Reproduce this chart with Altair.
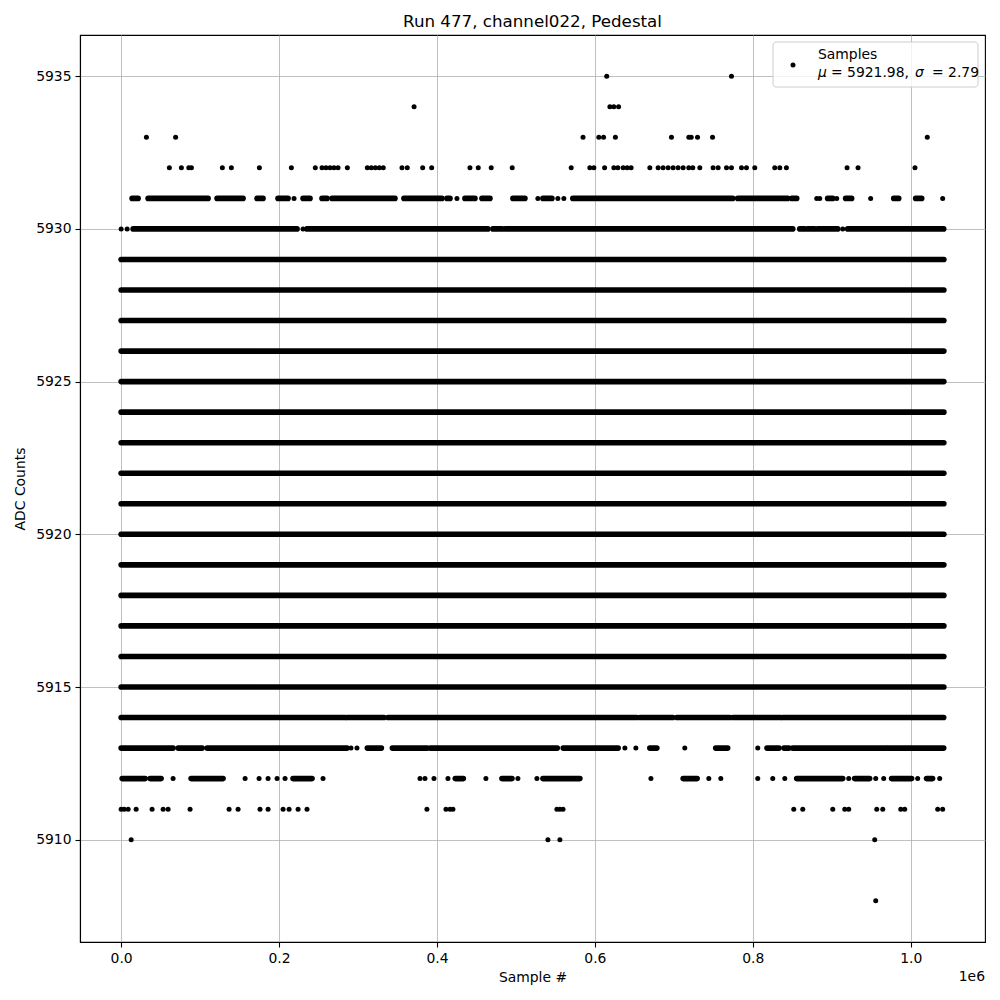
import altair as alt
import pandas as pd

FONT = "DejaVu Sans"

# ---- data (sample numbers in thousands, ADC levels) ----
full_levels = [5915, 5916, 5917, 5918, 5919, 5920, 5921, 5922, 5923, 5924,
               5925, 5926, 5927, 5928, 5929]
full_range = (0, 1042)

seg_5931 = [(13.9, 21.5), (34.2, 110.1), (121.5, 154.4), (172.1, 179.7), (198.7, 211.4),
            (230.4, 239.2), (254.4, 260.8), (267.1, 346.8), (358.2, 406.3), (412.7, 416.5),
            (435.4, 448.1), (457.0, 467.1), (496.2, 511.4), (534.2, 545.6), (572.1, 774.6),
            (780.9, 844.2), (849.3, 855.6), (894.8, 901.2), (917.6, 925.2), (978.5, 984.8),
            (1006.3, 1013.9)]
seg_5930 = [(15.2, 222.8), (235.4, 464.5), (470.9, 482.3), (486.1, 850.6), (859.5, 865.8),
            (869.6, 878.5), (882.3, 907.6), (920.2, 1041.8)]
seg_5914 = [(0, 283.5), (286.1, 332.9), (338.0, 653.1), (657.0, 698.7), (703.8, 770.9),
            (774.7, 835.4), (838.0, 1041.8)]
seg_5913 = [(0, 65.8), (72.2, 102.6), (108.9, 286.1), (311.8, 329.6), (343.5, 387.8),
            (391.6, 552.4), (559.9, 629.5), (669.6, 678.5), (753.0, 768.2), (818.0, 833.2),
            (839.5, 845.8), (850.6, 968.3), (970.8, 1041.8)]
seg_5912 = [(1.3, 30.4), (36.7, 50.6), (88.6, 129.1), (217.7, 241.8), (423.2, 433.4),
            (482.3, 495.0), (534.2, 581.0), (711.8, 729.5), (855.6, 913.9), (929.0, 948.0),
            (975.8, 1001.1), (1020.1, 1027.7)]

pts_5935 = [615, 773]
pts_5934 = [371, 619, 624, 630]
pts_5933 = [32, 69, 585, 605, 611, 626, 697, 719, 722, 730, 749, 1021]
pts_5932 = [61.1, 76.3, 85.7, 89.0, 128.2, 139.6, 175.1, 215.6, 245.9, 254.4, 259.5, 264.6,
            269.6, 274.7, 286.5, 311.8, 316.8, 321.9, 326.9, 332.0, 355.7, 362.4, 381.9,
            393.3, 441.8, 452.3, 468.7, 495.3, 570.0, 593.6, 598.7, 612.3, 624.0, 629.1,
            635.8, 640.9, 645.9, 669.6, 680.1, 686.4, 692.8, 699.1, 705.4, 711.8, 718.9,
            724.0, 732.9, 749.7, 756.1, 766.7, 773.0, 785.7, 792.0, 802.5, 827.8, 834.2,
            842.6, 919.4, 933.3, 1005.4]
pts_5931 = [219.0, 425.3, 527.8, 553.1, 560.7, 881.0, 884.8, 906.3, 949.3, 1040.5]
pts_5930 = [0, 7.6, 230.4, 913.9]
pts_5913 = [291.1, 298.7, 638.0, 651.9, 713.9, 806.3]
pts_5912 = [65.8, 157.0, 174.7, 186.1, 197.5, 207.6, 255.7, 378.5, 384.8, 396.2, 413.9,
            462.0, 502.5, 526.6, 671.0, 744.3, 759.5, 806.3, 825.3, 840.5, 921.5, 955.7,
            965.8, 1008.8, 1036.7]
pts_5911 = [0, 3.8, 8.9, 19.0, 39.2, 53.2, 59.5, 87.3, 136.7, 148.1, 175.9, 186.1, 205.1,
            212.7, 224.1, 235.4, 387.3, 411.4, 416.5, 420.2, 551.9, 555.7, 559.6, 851.9,
            863.3, 901.3, 916.5, 921.5, 957.0, 964.6, 987.4, 992.4, 1034.2, 1040.5]
pts_5910 = [12.7, 540.5, 555.7, 954.4]
pts_5908 = [955.7]

title_text = "Run 477, channel022, Pedestal"
legend_label = "Samples"
mu_val, sigma_val = 5921.98, 2.79

x_ticks = [0, 200000, 400000, 600000, 800000, 1000000]
y_ticks = [5910, 5915, 5920, 5925, 5930, 5935]

# ---- tables ----
seg_rows = []
for lv in full_levels:
    seg_rows.append({"level": lv, "start": full_range[0] * 1000, "end": full_range[1] * 1000})
for lv, segs in [(5931, seg_5931), (5930, seg_5930), (5914, seg_5914),
                 (5913, seg_5913), (5912, seg_5912)]:
    for s, e in segs:
        seg_rows.append({"level": lv, "start": s * 1000, "end": e * 1000})
seg_df = pd.DataFrame(seg_rows)

pt_rows = []
for lv, pts in [(5935, pts_5935), (5934, pts_5934), (5933, pts_5933), (5932, pts_5932),
                (5931, pts_5931), (5930, pts_5930), (5913, pts_5913), (5912, pts_5912),
                (5911, pts_5911), (5910, pts_5910), (5908, pts_5908)]:
    for p in pts:
        pt_rows.append({"level": lv, "x": p * 1000})
pt_df = pd.DataFrame(pt_rows)

W, H = 905, 907
xscale = alt.Scale(domain=[-52100, 1094100], nice=False, zero=False)
yscale = alt.Scale(domain=[5906.65, 5936.35], nice=False, zero=False)

common_axis = dict(
    grid=True, gridColor="#b0b0b0", gridWidth=0.8,
    domainColor="black", domainWidth=1.1,
    tickColor="black", tickSize=5, tickWidth=1.1,
    labelFont=FONT, labelFontSize=13.9, labelColor="black", labelPadding=4,
    titleFont=FONT, titleFontSize=13.9, titleFontWeight="normal", titleColor="black",
)
xaxis = alt.Axis(values=x_ticks, labelExpr="format(datum.value / 1e6, '.1f')",
                 title="Sample #", titlePadding=6, **common_axis)
yaxis = alt.Axis(values=y_ticks, format="d", title="ADC Counts", titlePadding=8,
                 **common_axis)

bands = alt.Chart(seg_df).mark_rule(
    color="black", strokeWidth=5.6, strokeCap="round"
).encode(
    x=alt.X("start:Q", scale=xscale, axis=xaxis),
    x2="end:Q",
    y=alt.Y("level:Q", scale=yscale, axis=yaxis),
)

dots = alt.Chart(pt_df).mark_circle(color="black", size=25, opacity=1).encode(
    x=alt.X("x:Q", scale=xscale),
    y=alt.Y("level:Q", scale=yscale),
)

one = pd.DataFrame({"k": [0]})
legend_box = alt.Chart(one).mark_rect(
    fill="white", fillOpacity=0.8, stroke="#cccccc", strokeWidth=1, cornerRadius=3
).encode(x=alt.value(693), x2=alt.value(898), y=alt.value(7), y2=alt.value(52))
legend_dot = alt.Chart(one).mark_circle(color="black", size=25, opacity=1).encode(
    x=alt.value(713), y=alt.value(30))
legend_t1 = alt.Chart(one).mark_text(
    font=FONT, fontSize=13.9, align="left", baseline="middle", color="black"
).encode(x=alt.value(738), y=alt.value(20), text=alt.value(legend_label))
legend_mu = alt.Chart(one).mark_text(
    font=FONT, fontSize=13.9, align="left", baseline="middle", color="black", fontStyle="italic"
).encode(x=alt.value(738), y=alt.value(38), text=alt.value("μ"))
legend_v1 = alt.Chart(one).mark_text(
    font=FONT, fontSize=13.9, align="left", baseline="middle", color="black"
).encode(x=alt.value(751), y=alt.value(38), text=alt.value(f"= {mu_val:.2f},"))
legend_sig = alt.Chart(one).mark_text(
    font=FONT, fontSize=13.9, align="left", baseline="middle", color="black", fontStyle="italic"
).encode(x=alt.value(835), y=alt.value(38), text=alt.value("σ"))
legend_v2 = alt.Chart(one).mark_text(
    font=FONT, fontSize=13.9, align="left", baseline="middle", color="black"
).encode(x=alt.value(852), y=alt.value(38), text=alt.value(f"= {sigma_val:.2f}"))
offset_txt = alt.Chart(one).mark_text(
    font=FONT, fontSize=13.9, align="right", baseline="middle", color="black"
).encode(x=alt.value(905), y=alt.value(942), text=alt.value("1e6"))

chart = alt.layer(
    bands, dots, legend_box, legend_dot, legend_t1, legend_mu, legend_v1,
    legend_sig, legend_v2, offset_txt
).properties(
    width=W, height=H,
    title=alt.TitleParams(title_text, font=FONT, fontSize=16.7, fontWeight="normal",
                          color="black", anchor="middle", offset=4),
    autosize=alt.AutoSizeParams(type="none"),
    padding={"left": 72, "top": 27, "right": 5, "bottom": 50},
).configure_view(stroke="black", strokeWidth=1.1)

chart.save("out.html", embed_options={"renderer": "svg", "actions": False})
